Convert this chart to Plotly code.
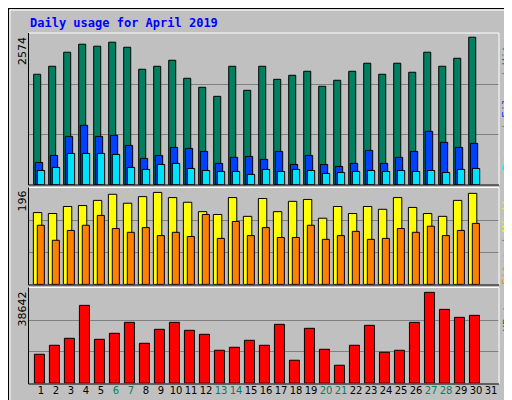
import plotly.graph_objects as go

days = list(range(1, 32))
hits = [1928,2067,2312,2452,2417,2487,2399,2015,2067,2172,1858,1701,1543,2067,1648,2067,1840,1910,1980,1718,1823,1980,2120,1928,2120,1963,2312,2067,2207,2574]
files = [390,512,844,1037,844,862,687,460,512,652,635,582,373,478,495,443,582,355,512,355,320,373,600,373,478,582,932,740,652,722]
pages = [250,303,547,547,547,530,303,268,355,373,285,250,233,233,181,268,233,268,250,198,215,233,250,233,250,233,250,215,268,285]
visits = [153,151,166,168,179,192,173,187,196,185,175,155,149,185,145,183,155,177,181,141,166,151,166,160,185,164,151,145,179,194]
sites = [126,94,115,126,147,119,111,121,104,111,102,149,98,134,104,121,100,100,126,96,104,113,96,98,119,111,124,104,115,130]
kbytes = [12313,16134,19105,33118,18681,21228,25899,16983,22927,25899,22502,20805,14012,15285,18257,16134,25050,9765,23353,14436,7642,16134,24627,13162,14012,25899,38642,31419,28023,28873]
weekends = [6,7,13,14,20,21,27,28]
d30 = days[:30]

fig = go.Figure()
line = dict(color="black", width=1)
def bar(y, color, off, w, ax):
    fig.add_trace(go.Bar(x=d30, y=y, marker=dict(color=color, line=line), offset=off, width=w,
                         xaxis="x", yaxis=ax, showlegend=False, hoverinfo="skip"))

bar(hits, "#008060", -0.487, 0.467, "y")
bar(files, "#0040FF", -0.38, 0.49, "y")
bar(pages, "#00E0FF", -0.247, 0.49, "y")
bar(visits, "#FFFF00", -0.51, 0.56, "y2")
bar(sites, "#FF8000", -0.247, 0.47, "y2")
bar(kbytes, "#FF0000", -0.44, 0.67, "y3")

def yax(dom, top):
    return dict(domain=dom, range=[0, top], tickvals=[top/3, 2*top/3], showticklabels=False,
                showgrid=True, gridcolor="#808080", gridwidth=1, zeroline=False, ticks="", fixedrange=True)

ticktext = [f"<span style='color:#008060'>{d}</span>" if d in weekends else str(d) for d in days]
fig.update_layout(
    width=512, height=400, margin=dict(l=0, r=0, t=0, b=0),
    paper_bgcolor="#C0C0C0", plot_bgcolor="#C0C0C0", barmode="overlay",
    xaxis=dict(domain=[20.7/512, 490.7/512], range=[0.18, 31.51], tickvals=days, ticktext=ticktext,
               tickangle=0, tickfont=dict(family="DejaVu Sans", size=10, color="black"),
               showgrid=False, zeroline=False, anchor="y3", ticks="", fixedrange=True),
    yaxis=yax([0.558, 0.936], 2637),
    yaxis2=yax([0.309, 0.548], 203.7),
    yaxis3=yax([0.062, 0.298], 40170),
    font=dict(family="DejaVu Sans"),
)

def px(x): return x/512
def py(y): return 1 - y/400
shapes = []
shapes.append(dict(type="rect", xref="paper", yref="paper", x0=0, y0=0, x1=1, y1=1, line=dict(color="black", width=2)))
shapes.append(dict(type="line", xref="paper", yref="paper", x0=px(2), y0=py(2), x1=px(510), y1=py(2), line=dict(color="white", width=1)))
shapes.append(dict(type="line", xref="paper", yref="paper", x0=px(2), y0=py(2), x1=px(2), y1=py(398), line=dict(color="white", width=1)))
shapes.append(dict(type="line", xref="paper", yref="paper", x0=px(3), y0=py(396), x1=px(510), y1=py(396), line=dict(color="#808080", width=2)))
shapes.append(dict(type="line", xref="paper", yref="paper", x0=px(508), y0=py(3), x1=px(508), y1=py(396), line=dict(color="#808080", width=2)))
for (t, b) in [(25, 177), (179.5, 277), (279.5, 376)]:
    shapes.append(dict(type="line", xref="paper", yref="paper", x0=px(20.5), y0=py(t), x1=px(491), y1=py(t), line=dict(color="white", width=1)))
    shapes.append(dict(type="line", xref="paper", yref="paper", x0=px(491), y0=py(t), x1=px(491), y1=py(b), line=dict(color="white", width=1)))
    shapes.append(dict(type="line", xref="paper", yref="paper", x0=px(20.5), y0=py(t), x1=px(20.5), y1=py(b), line=dict(color="black", width=1)))
    shapes.append(dict(type="line", xref="paper", yref="paper", x0=px(20.5), y0=py(b), x1=px(491), y1=py(b), line=dict(color="black", width=1)))
fig.update_layout(shapes=shapes)

ann = []
ann.append(dict(text="<b>Daily usage for April 2019</b>", x=px(20), y=py(15), xref="paper", yref="paper",
                xanchor="left", yanchor="middle", showarrow=False,
                font=dict(family="DejaVu Sans Mono", size=12, color="#0000FF")))
for label, ytop in [("2574", 27), ("196", 181), ("38642", 282)]:
    ann.append(dict(text=label, x=px(14), y=py(ytop), xref="paper", yref="paper", textangle=-90,
                    xanchor="center", yanchor="top", showarrow=False,
                    font=dict(family="DejaVu Sans", size=11, color="black")))
right = [
    ("<span style='color:#00E0FF'>Pages</span> / <span style='color:#0040FF'>Files</span> / <span style='color:#008060'>Hits</span>", 28),
    ("<span style='color:#FF8000'>Sites</span> / <span style='color:#FFFF00'>Visits</span>", 182),
    ("<span style='color:#FF0000'>KBytes</span>", 282),
]
for txt, ytop in right:
    ann.append(dict(text=txt, x=px(507), y=py(ytop), xref="paper", yref="paper", textangle=-90,
                    xanchor="right", yanchor="top", showarrow=False,
                    font=dict(family="DejaVu Sans Mono", size=11, color="#808080")))
fig.update_layout(annotations=ann)

fig.write_html("out.html", config={"displayModeBar": False})
